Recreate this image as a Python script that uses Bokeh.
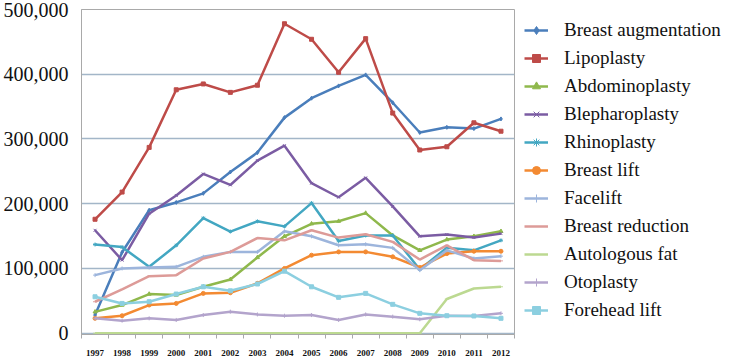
from bokeh.plotting import figure
from bokeh.models import (Range1d, FixedTicker, NumeralTickFormatter, Legend, LegendItem)
from bokeh.embed import file_html
from bokeh.resources import INLINE

years = [1997, 1998, 1999, 2000, 2001, 2002, 2003, 2004, 2005, 2006, 2007, 2008, 2009, 2010, 2011, 2012]

breast_augmentation = [28000, 125000, 190000, 202000, 216000, 249000, 279000, 333000, 363000, 382000, 399000, 356000, 310000, 318000, 316000, 331000]
lipoplasty = [176000, 218000, 287000, 376000, 385000, 372000, 383000, 478000, 454000, 403000, 455000, 340000, 283000, 288000, 325000, 312000]
abdominoplasty = [33000, 43500, 60500, 59000, 71700, 83000, 117000, 149700, 169000, 173000, 185500, 151000, 128000, 144600, 149700, 157400]
blepharoplasty = [159000, 112800, 184600, 212800, 246000, 229000, 266600, 289700, 231700, 210000, 240000, 195800, 149700, 152300, 147700, 153800]
rhinoplasty = [137000, 133000, 102500, 135800, 177800, 157000, 172800, 165000, 201000, 142500, 151000, 151000, 98500, 132000, 128000, 143500]
breast_lift = [23000, 27000, 43500, 46000, 61500, 62500, 77000, 100000, 120500, 125600, 125600, 118000, 101500, 123000, 126600, 126600]
facelift = [89700, 100000, 101500, 102500, 118000, 125600, 125600, 157400, 149700, 135800, 137400, 131800, 97400, 128000, 115400, 119000]
breast_reduction = [48600, 67700, 88000, 89700, 115400, 125600, 147000, 143500, 159000, 147700, 152800, 141000, 113800, 135800, 112800, 111700]
autologous_fat = [0, 0, 0, 0, 0, 0, 0, 0, 0, 0, 0, 0, 0, 52800, 69000, 71700]
otoplasty = [23000, 19400, 23000, 20500, 28000, 33300, 29000, 27000, 28000, 20500, 29000, 25600, 21500, 27000, 26600, 30700]
forehead_lift = [56300, 46000, 48600, 60500, 71700, 65500, 76000, 95800, 71700, 55400, 61500, 44600, 30700, 27000, 26600, 23000]

series_names = ["Breast augmentation", "Lipoplasty", "Abdominoplasty", "Blepharoplasty",
                "Rhinoplasty", "Breast lift", "Facelift", "Breast reduction",
                "Autologous fat", "Otoplasty", "Forehead lift"]
series_values = [breast_augmentation, lipoplasty, abdominoplasty, blepharoplasty,
                 rhinoplasty, breast_lift, facelift, breast_reduction,
                 autologous_fat, otoplasty, forehead_lift]
colors = ["#4a7ebb", "#be4b48", "#8fb84c", "#7b5ca3", "#43a7c2", "#f38a32",
          "#9db5dc", "#dd9b98", "#bcd991", "#b3a4cc", "#8ccfe0"]
markers = ["diamond", "square", "triangle", "x", "asterisk", "circle",
           "cross", "dash", "dash", "cross", "square"]

y_ticks = [0, 100000, 200000, 300000, 400000, 500000]

p = figure(frame_width=433, frame_height=325, output_backend="svg", toolbar_location=None,
           x_range=Range1d(1996.5, 2012.5), y_range=Range1d(-2000, 500000),
           min_border_left=77, min_border_right=0, min_border_top=9, min_border_bottom=0)
p.background_fill_color = "white"
p.border_fill_color = "white"
p.outline_line_color = "#a9a9a9"
p.outline_line_width = 1

items = []
for name, vals, c, m in zip(series_names, series_values, colors, markers):
    r1 = p.line(years, vals, line_color=c, line_width=2.5)
    r2 = p.scatter(years, vals, marker=m, size=4, line_color=c, fill_color=c, line_width=1)
    items.append(LegendItem(label=name, renderers=[r1, r2]))

# y axis
p.yaxis.ticker = FixedTicker(ticks=y_ticks)
p.yaxis.formatter = NumeralTickFormatter(format="0,0")
p.yaxis.major_label_text_font = "Liberation Serif"
p.yaxis.major_label_text_font_size = "20px"
p.yaxis.major_label_text_color = "#111111"
p.yaxis.axis_line_color = "#a9a9a9"
p.yaxis.major_tick_line_color = None
p.yaxis.minor_tick_line_color = None
p.yaxis.major_label_standoff = 7

# x axis
p.xaxis.ticker = FixedTicker(ticks=years, minor_ticks=[y - 0.5 for y in years] + [2012.5])
p.xaxis.major_label_text_font = "Liberation Serif"
p.xaxis.major_label_text_font_size = "9px"
p.xaxis.major_label_text_font_style = "bold"
p.xaxis.major_label_text_color = "#111111"
p.xaxis.axis_line_color = "#a9a9a9"
p.xaxis.major_tick_line_color = None
p.xaxis.minor_tick_line_color = "#a9a9a9"
p.xaxis.minor_tick_out = 4
p.xaxis.minor_tick_in = 0
p.xaxis.major_label_standoff = 9

p.xgrid.grid_line_color = None
p.ygrid.grid_line_color = "#a3b6c8"
p.ygrid.grid_line_width = 1.5

legend = Legend(items=items, location="top_left")
legend.label_text_font = "Liberation Serif"
legend.label_text_font_size = "19px"
legend.label_text_color = "#111111"
legend.glyph_width = 24
legend.glyph_height = 20
legend.label_height = 20
legend.spacing = 6
legend.label_standoff = 16
legend.padding = 0
legend.margin = 10
legend.border_line_color = None
legend.background_fill_alpha = 0
p.add_layout(legend, "right")

open("out.html", "w").write(file_html(p, INLINE))
